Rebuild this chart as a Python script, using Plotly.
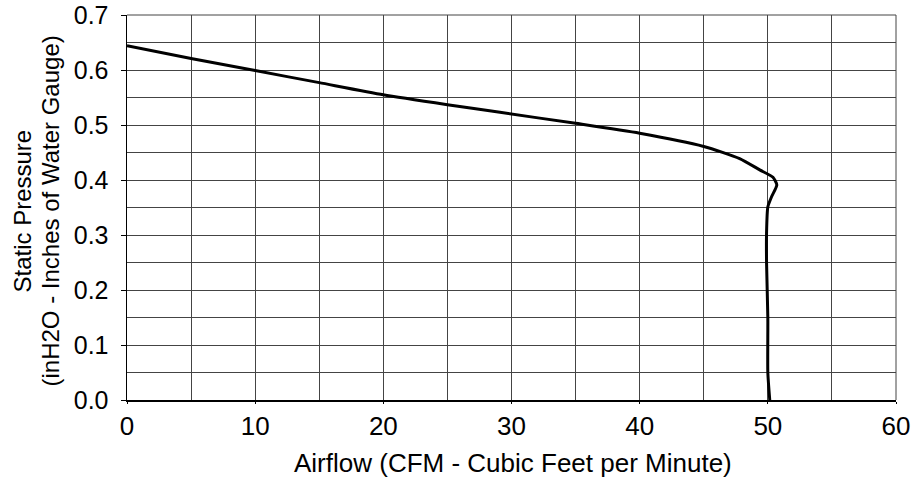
import plotly.graph_objects as go

airflow = [0, 5, 10, 15, 20, 25, 29.1, 35, 40, 45, 47.8, 49.4, 50.4, 50.7, 50.3, 50.0, 49.9, 49.9, 50.0, 50.0, 50.15]
pressure = [0.644, 0.621, 0.599, 0.577, 0.555, 0.537, 0.523, 0.503, 0.485, 0.461, 0.439, 0.418, 0.405, 0.391, 0.37, 0.351, 0.303, 0.25, 0.15, 0.05, 0.0]

x_ticks = [0, 10, 20, 30, 40, 50, 60]
y_ticks = [0.0, 0.1, 0.2, 0.3, 0.4, 0.5, 0.6, 0.7]

x_title = "Airflow (CFM - Cubic Feet per Minute)"
y_title_1 = "Static Pressure"
y_title_2 = "(inH2O - Inches of Water Gauge)"

font = "Liberation Sans, Arial, Helvetica, sans-serif"
grid = "#444"

fig = go.Figure()
fig.add_trace(go.Scatter(
    x=airflow, y=pressure, mode="lines",
    line=dict(color="black", width=3, shape="spline", smoothing=0.6),
    showlegend=False, hoverinfo="skip",
))

fig.update_layout(
    width=912, height=479,
    margin=dict(l=127, r=16, t=15, b=79),
    paper_bgcolor="white", plot_bgcolor="white",
    font=dict(family=font, size=25, color="black"),
    xaxis=dict(
        range=[0, 60], tickvals=x_ticks, ticktext=[str(v) for v in x_ticks],
        tickfont=dict(size=26), ticklabeloverflow="allow",
        showgrid=True, gridcolor=grid, gridwidth=1,
        minor=dict(dtick=5, tick0=0, showgrid=True, gridcolor=grid, gridwidth=1),
        showline=True, linecolor="black", linewidth=1.5,
        ticks="outside", ticklen=2, tickcolor="black",
        zeroline=False, fixedrange=True, automargin=False,
    ),
    yaxis=dict(
        range=[0, 0.70001], tickvals=y_ticks, ticktext=[f"{v:.1f}" for v in y_ticks],
        tickfont=dict(size=25), ticklabeloverflow="allow",
        showgrid=True, gridcolor=grid, gridwidth=1,
        minor=dict(dtick=0.05, tick0=0, showgrid=True, gridcolor=grid, gridwidth=1),
        showline=True, linecolor="black", linewidth=1.5,
        ticks="outside", ticklen=5, tickcolor="black",
        ticklabelstandoff=7,
        zeroline=False, fixedrange=True, automargin=False,
    ),
    shapes=[
        dict(type="line", xref="paper", yref="paper", x0=0, x1=1, y0=1, y1=1,
             line=dict(color=grid, width=1), layer="below"),
        dict(type="line", xref="paper", yref="paper", x0=1, x1=1, y0=0, y1=1,
             line=dict(color=grid, width=1), layer="below"),
    ],
    annotations=[
        dict(text=x_title, xref="paper", yref="paper", x=0.502, y=-0.1636,
             xanchor="center", yanchor="middle", showarrow=False,
             font=dict(size=26)),
        dict(text=y_title_1, xref="paper", yref="paper", x=-0.1365, y=0.4896,
             xanchor="center", yanchor="middle", showarrow=False, textangle=-90,
             font=dict(size=24)),
        dict(text=y_title_2, xref="paper", yref="paper", x=-0.1001, y=0.4896,
             xanchor="center", yanchor="middle", showarrow=False, textangle=-90,
             font=dict(size=24)),
    ],
)

fig.write_html(
    "out.html",
    config={"displayModeBar": False, "staticPlot": True},
    post_script="document.body.style.margin='0px';document.body.style.overflow='hidden';",
)
